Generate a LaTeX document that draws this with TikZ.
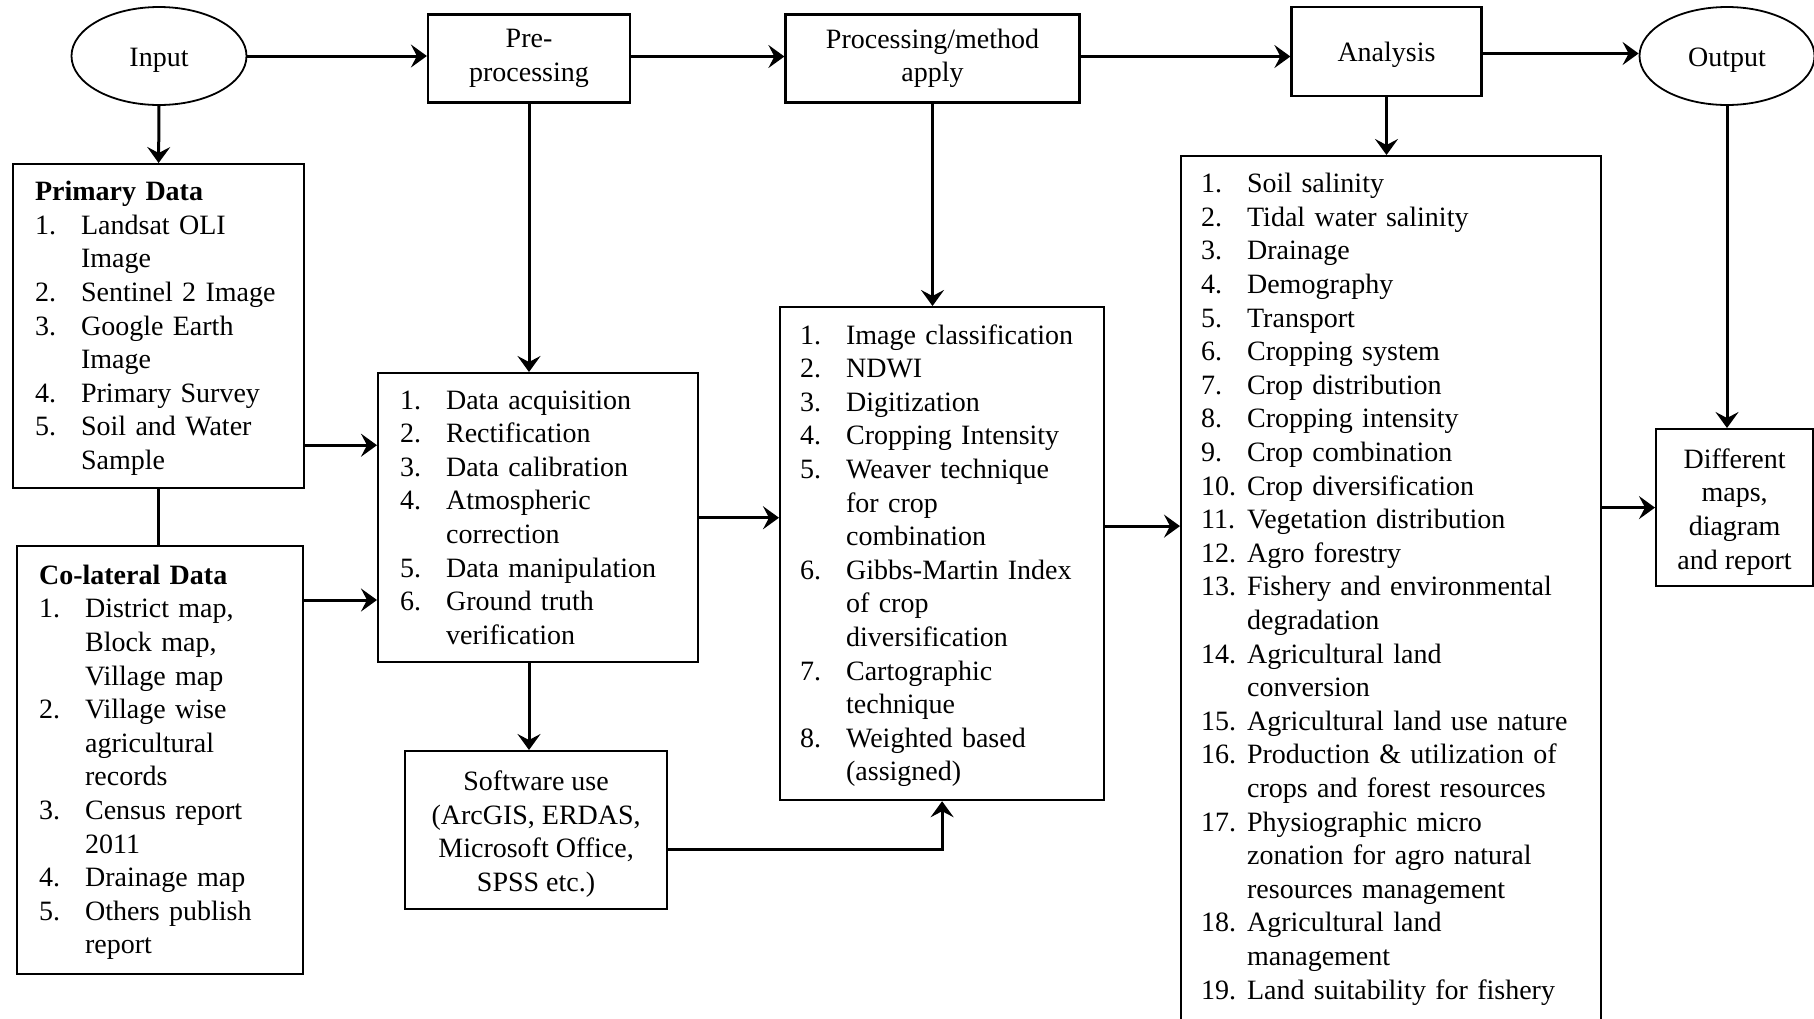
\documentclass[tikz,border=0pt]{standalone}
\usepackage{fontspec}
\setmainfont{Liberation Serif}
\usepackage{tikz}
\usetikzlibrary{
  arrows.meta,
  shapes.geometric,
  positioning,
  calc
}
\newenvironment{steplist}{\begin{tabular}{@{}p{23pt}@{}l@{}}}{\end{tabular}}
\tikzset{
  fcnode/.style={
    draw, line width=1.1pt, font=\fontsize{14}{16.8}\selectfont,
    align=center, inner sep=2pt
  },
  fcbox/.style={fcnode, rectangle},
  terminal/.style={fcnode, ellipse, line width=0.9pt, minimum width=87.5pt, minimum height=49pt},
  onerow/.style={text height=13pt, text depth=3pt},
  listbox/.style={fcnode, align=left, anchor=north west, inner xsep=11pt, inner ysep=4pt},
  flow/.style={-{Stealth[length=8pt, width=11.5pt, inset=3pt]}, line width=1.5pt},
  link/.style={line width=1.5pt}
}

\begin{document}
\begin{tikzpicture}[x=0.5pt, y=-0.5pt]
  \useasboundingbox (0,0) rectangle (1814,1018);
  \clip (0,0) rectangle (1814,1018);

  % stage row
  \node[terminal, onerow] (inp) at (159,56) {Input};
  \node[fcbox, minimum width=101pt, minimum height=44pt] (pre) at (529,58.5) {Pre-\\processing};
  \node[fcbox, minimum width=147pt, minimum height=44pt] (proc) at (932.5,58.5) {Processing/method\\apply};
  \node[fcbox, onerow, minimum width=95pt, minimum height=44.5pt] (ana) at (1386.5,51.5) {Analysis};
  \node[terminal, onerow] (out) at (1727,56) {Output};

  % input data
  \node[listbox, text width=123.5pt, minimum height=162pt] (prim) at (12,163) {%
    \begin{steplist}
    \multicolumn{2}{@{}l@{}}{\rule{0pt}{14pt}\textbf{Primary Data}}\\
    1. & Landsat OLI\\
       & Image\\
    2. & Sentinel 2 Image\\
    3. & Google Earth\\
       & Image\\
    4. & Primary Survey\\
    5. & Soil and Water\\
       & Sample
    \end{steplist}};
  \node[listbox, text width=121pt, minimum height=214pt] (col) at (16,545) {%
    \begin{steplist}
    \multicolumn{2}{@{}l@{}}{\rule{0pt}{14pt}\textbf{Co-lateral Data}}\\
    1. & District map,\\
       & Block map,\\
       & Village map\\
    2. & Village wise\\
       & agricultural\\
       & records\\
    3. & Census report\\
       & 2011\\
    4. & Drainage map\\
    5. & Others publish\\
       & report
    \end{steplist}};

  % pre-processing steps
  \node[listbox, text width=138pt, minimum height=144.5pt] (prelist) at (377,372) {%
    \begin{steplist}
    \rule{0pt}{14pt}1. & Data acquisition\\
    2. & Rectification\\
    3. & Data calibration\\
    4. & Atmospheric\\
       & correction\\
    5. & Data manipulation\\
    6. & Ground truth\\
       & verification
    \end{steplist}};
  \node[fcbox, anchor=north west, minimum width=131pt, minimum height=79pt] (soft) at (404,750)
    {\rule{0pt}{14pt}Software use\\(ArcGIS, ERDAS,\\Microsoft Office,\\SPSS etc.)};

  % methods
  \node[listbox, inner xsep=10pt, text width=142pt, minimum height=246.5pt] (proclist) at (779,306) {%
    \begin{steplist}
    \rule{0pt}{14pt}1. & Image classification\\
    2. & NDWI\\
    3. & Digitization\\
    4. & Cropping Intensity\\
    5. & Weaver technique\\
       & for crop\\
       & combination\\
    6. & Gibbs-Martin Index\\
       & of crop\\
       & diversification\\
    7. & Cartographic\\
       & technique\\
    8. & Weighted based\\
       & (assigned)
    \end{steplist}};

  % analysis themes
  \node[listbox, inner xsep=10pt, inner ysep=6.5pt, text width=190pt] (anlist) at (1180,155) {%
    \begin{steplist}
    1.  & Soil salinity\\
    2.  & Tidal water salinity\\
    3.  & Drainage\\
    4.  & Demography\\
    5.  & Transport\\
    6.  & Cropping system\\
    7.  & Crop distribution\\
    8.  & Cropping intensity\\
    9.  & Crop combination\\
    10. & Crop diversification\\
    11. & Vegetation distribution\\
    12. & Agro forestry\\
    13. & Fishery and environmental\\
        & degradation\\
    14. & Agricultural land\\
        & conversion\\
    15. & Agricultural land use nature\\
    16. & Production \& utilization of\\
        & crops and forest resources\\
    17. & Physiographic micro\\
        & zonation for agro natural\\
        & resources management\\
    18. & Agricultural land\\
        & management\\
    19. & Land suitability for fishery\\[14pt]
    \end{steplist}};

  \node[fcbox, anchor=north west, minimum width=78.5pt, minimum height=78.5pt] (maps) at (1655,428)
    {\rule{0pt}{14pt}Different\\maps,\\diagram\\and report};

  % stage row arrows
  \draw[flow] (inp.east) -- (inp.east -| pre.west);
  \draw[flow] ([yshift=1pt]pre.east) -- ([yshift=1pt]pre.east -| proc.west);
  \draw[flow] ([yshift=1pt]proc.east) -- ([yshift=1pt]proc.east -| ana.west);
  \draw[flow] ([yshift=-1pt]ana.east) -- ([yshift=-1pt]ana.east -| out.west);

  % down the columns
  \draw[flow] (inp.south) -- (prim.north);
  \draw[link] (prim.south) -- (prim.south |- col.north);
  \draw[flow] (pre.south) -- (pre.south |- prelist.north);
  \draw[flow] (pre.south |- prelist.south) -- (pre.south |- soft.north);
  \draw[flow] (proc.south) -- (proc.south |- proclist.north);
  \draw[flow] (ana.south) -- (ana.south |- anlist.north);
  \draw[flow] (out.south) -- (out.south |- maps.north);

  % across
  \coordinate (primout) at ([yshift=22pt]prim.south east);
  \coordinate (colout) at ([yshift=-27.5pt]col.north east);
  \coordinate (softout) at ([yshift=-9.5pt]soft.east);
  \coordinate (procout) at ([yshift=13.75pt]proclist.east);
  \draw[flow] (primout) -- (primout -| prelist.west);
  \draw[flow] (colout) -- (colout -| prelist.west);
  \draw[flow] (prelist.east) -- (prelist.east -| proclist.west);
  \draw[flow] (softout) -| (proclist.south);
  \draw[flow] (procout) -- (procout -| anlist.west);
  \draw[flow] (maps.west -| anlist.east) -- (maps.west);
\end{tikzpicture}
\end{document}
